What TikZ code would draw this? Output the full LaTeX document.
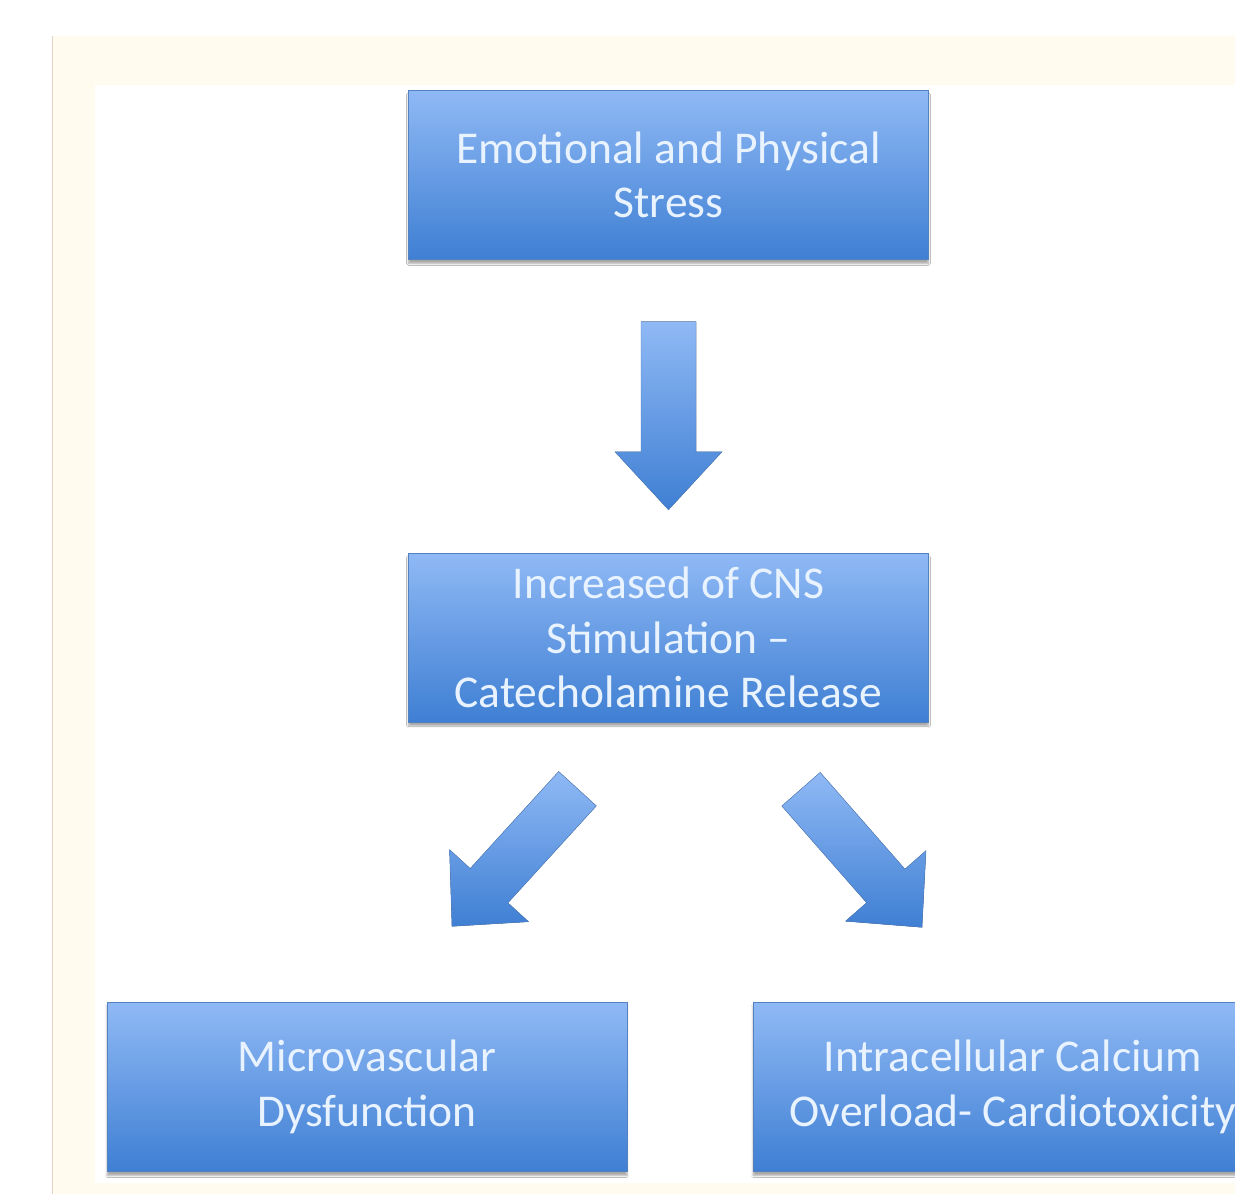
\documentclass[tikz,border=0pt]{standalone}
\usepackage{fontspec}
\setmainfont{Carlito}
\usetikzlibrary{calc,shadows.blur}

\definecolor{boxtop}{HTML}{8FB9F5}
\definecolor{boxbottom}{HTML}{3F7FD3}
\definecolor{boxline}{HTML}{5481C0}
\definecolor{boxtext}{HTML}{E8F3FF}
\definecolor{cream}{HTML}{FFFCEF}
\definecolor{edgeline}{HTML}{E6D3C8}

\tikzset{
  stage/.style={draw=boxline,thin,top color=boxtop,bottom color=boxbottom,
    minimum width=520pt,minimum height=169pt,align=center,text=boxtext,
    font=\fontsize{45.5}{54.5}\selectfont,
    blur shadow={shadow xshift=0pt,shadow yshift=-4pt,shadow blur steps=6,shadow opacity=35}},
  blockfill/.style={draw=boxline,thin,top color=boxtop,bottom color=boxbottom}
}

% tail, tip, shaft half width, head half width, head length
\newcommand\blockarrow[5]{%
  \coordinate (hb) at ($(#2)!#5!(#1)$);
  \filldraw[blockfill] ($(#1)!#3!90:(#2)$) -- ($(hb)!#3!90:(#2)$) -- ($(hb)!#4!90:(#2)$) -- (#2)
    -- ($(hb)!#4!-90:(#2)$) -- ($(hb)!#3!-90:(#2)$) -- ($(#1)!#3!-90:(#2)$) -- cycle;
}

\begin{document}
\begin{tikzpicture}[x=1pt,y=-1pt]
\clip (0,0) rectangle (1235,1194);
\fill[white] (0,0) rectangle (1235,1194);
\fill[cream] (52,36) rectangle (1235,1194);
\fill[white] (95,85) rectangle (1235,1183);
\draw[edgeline,line width=1.5pt] (52.5,36) -- (52.5,1194);

\node[stage] (stress) at (668.5,175) {Emotional and Physical\\Stress};
\node[stage] (cns) at (668.5,637.5) {Increased of CNS\\Stimulation –\\Catecholamine Release};
\node[stage] (micro) at (367,1087) {Microvascular\\Dysfunction};
\node[stage] (calcium) at (1013,1087) {Intracellular Calcium\\Overload- Cardiotoxicity};

\coordinate (a1s) at ($(stress.south)+(0,62)$);
\coordinate (a1t) at ($(cns.north)+(0,-43)$);
\coordinate (a2s) at ($(cns.south)+(-91,66.5)$);
\coordinate (a2t) at ($(micro.north)+(85,-76)$);
\coordinate (a3s) at ($(cns.south)+(132.5,67)$);
\coordinate (a3t) at ($(calcium.north)+(-91,-75)$);

\blockarrow{a1s}{a1t}{27.5pt}{53.5pt}{58pt}
\blockarrow{a2s}{a2t}{25.5pt}{53.5pt}{55pt}
\blockarrow{a3s}{a3t}{25.5pt}{53.5pt}{55pt}
\end{tikzpicture}
\end{document}
